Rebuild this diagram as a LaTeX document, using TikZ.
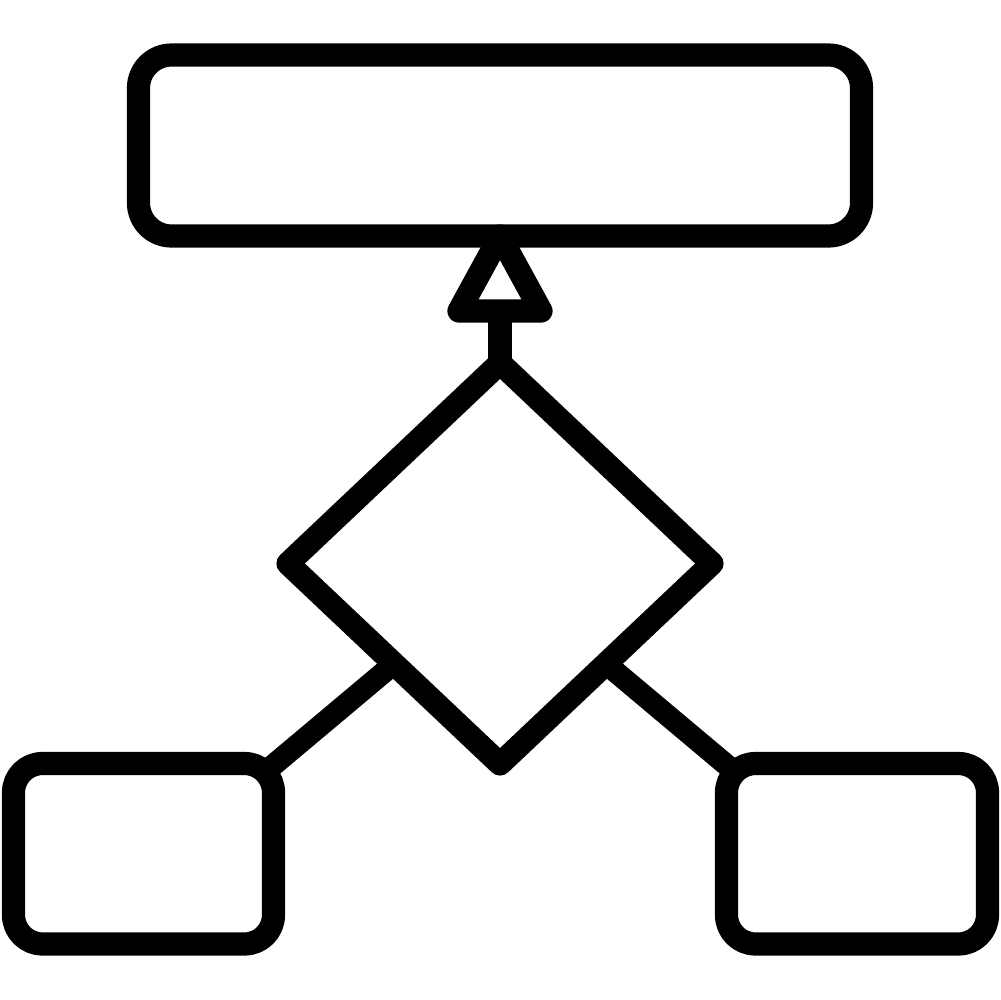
\documentclass[tikz,border=0pt]{standalone}
\usetikzlibrary{shapes.geometric,calc}
\begin{document}
\begin{tikzpicture}[x=0.1mm,y=-0.1mm,line width=6.6pt,line join=round,
  box/.style={draw,rectangle,inner sep=0pt,outer sep=0pt},
  dia/.style={draw,diamond,inner sep=0pt,outer sep=0pt,minimum width=42.4mm,minimum height=40.1mm},
  link/.style={draw,line width=6.2pt}]
\useasboundingbox[fill=white] (0,0) rectangle (1000,1000);
% top bar
\node[box,rounded corners=3.3mm,minimum width=72.3mm,minimum height=18.1mm] (top) at (500,145.5) {};
% decision diamond
\node[dia] (d) at (500,563.5) {};
% lower boxes
\node[box,rounded corners=2.9mm,minimum width=26mm,minimum height=18.05mm] (lb) at (143.5,853.75) {};
\node[box,rounded corners=2.9mm,minimum width=26.1mm,minimum height=18.05mm] (rb) at (857,853.75) {};
% arrow head and stem
\coordinate (apex) at (top.south);
\coordinate (bl) at ($(apex)+(-41,75)$);
\coordinate (br) at ($(apex)+(41,75)$);
\coordinate (bm) at ($(apex)+(0,75)$);
\draw (apex) -- (bl) -- (br) -- cycle;
\draw (bm) -- (d.north);
% connectors to lower boxes
\coordinate (ml) at ($(d.west)!0.5!(d.south)$);
\coordinate (mr) at ($(d.east)!0.5!(d.south)$);
\coordinate (lc) at ($(lb.north east)+(-9,9)$);
\coordinate (rc) at ($(rb.north west)+(9,9)$);
\draw[link] (ml) -- (lc);
\draw[link] (mr) -- (rc);
\end{tikzpicture}
\end{document}
